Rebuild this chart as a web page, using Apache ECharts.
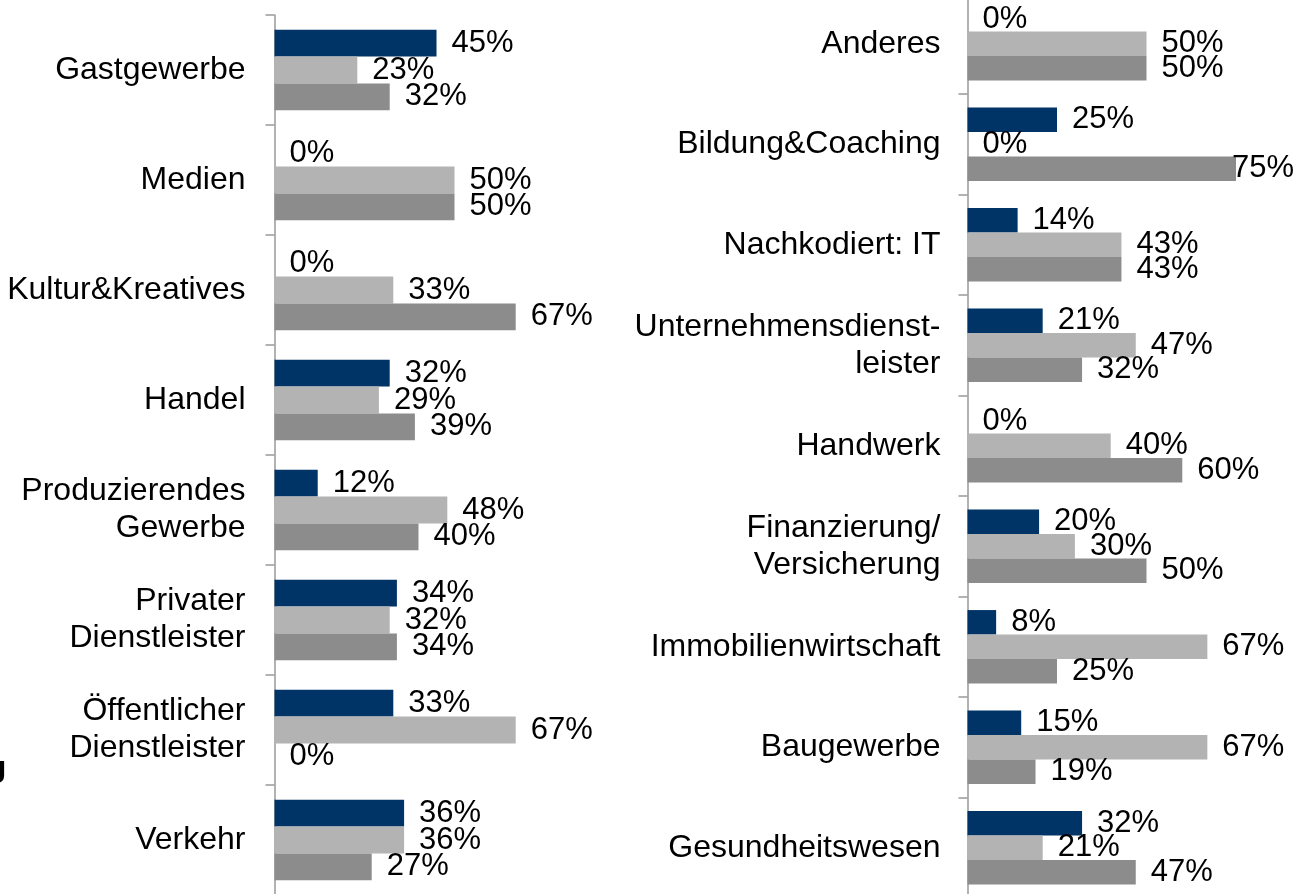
<!DOCTYPE html>
<html>
<head>
<meta charset="utf-8">
<script src="https://cdn.jsdelivr.net/npm/echarts@6/dist/echarts.min.js"></script>
<style>
html,body{margin:0;padding:0;background:#fff;overflow:hidden;width:1301px;height:894px;position:relative;}
#chart{position:absolute;left:0;top:-7px;width:1360px;height:910px;}
</style>
</head>
<body>
<div id="chart"></div>
<script>
// Left panel
const leftCategories = ['Gastgewerbe', 'Medien', 'Kultur&Kreatives', 'Handel', 'Produzierendes\nGewerbe', 'Privater\nDienstleister', 'Öffentlicher\nDienstleister', 'Verkehr'];
const leftDark  = [45, 0, 0, 32, 12, 34, 33, 36];
const leftLight = [23, 50, 33, 29, 48, 32, 67, 36];
const leftGray  = [32, 50, 67, 39, 40, 34, 0, 27];

// Right panel
const rightCategories = ['Anderes', 'Bildung&Coaching', 'Nachkodiert: IT', 'Unternehmensdienst-\nleister', 'Handwerk', 'Finanzierung/\nVersicherung', 'Immobilienwirtschaft', 'Baugewerbe', 'Gesundheitswesen'];
const rightDark  = [0, 25, 14, 21, 0, 20, 8, 15, 32];
const rightLight = [50, 0, 43, 47, 40, 30, 67, 67, 21];
const rightGray  = [50, 75, 43, 32, 60, 50, 25, 19, 47];

const FONT = "'Liberation Sans', Arial, sans-serif";
const COLORS = ['#003366', '#b3b3b3', '#8c8c8c'];

const chart = echarts.init(document.getElementById('chart'));

function yAxisCfg(cats, idx, margin) {
  return {
    type: 'category', gridIndex: idx, data: cats, inverse: true,
    axisLine: { show: true, lineStyle: { color: '#999', width: 1.5 } },
    axisTick: { show: true, length: 9, lineStyle: { color: '#999', width: 1.5 } },
    axisLabel: { color: '#000', fontSize: 32, fontFamily: FONT, lineHeight: 37, margin: margin, align: 'right', padding: [5, 0, 0, 0] }
  };
}
// labels of bars that would run past the right edge are pulled back onto the bar end
function barData(values, pullBackFrom) {
  return values.map(v => (pullBackFrom != null && v >= pullBackFrom) ? { value: v, label: { distance: -4 } } : v);
}
function barSeries(data, idx, color, pullBackFrom) {
  return {
    type: 'bar', xAxisIndex: idx, yAxisIndex: idx, data: barData(data, pullBackFrom),
    barGap: '0%', barCategoryGap: '27%',
    itemStyle: { color: color },
    label: { show: true, position: 'right', distance: 15, formatter: '{c}%', color: '#000', fontSize: 31, fontFamily: FONT },
    silent: true, animation: false
  };
}

chart.setOption({
  animation: false,
  grid: [
    { left: 274.5, top: 22, width: 360, height: 880 },
    { left: 967.5, top: 0.5, width: 358, height: 904.5 }
  ],
  xAxis: [
    { type: 'value', gridIndex: 0, min: 0, max: 100, show: false },
    { type: 'value', gridIndex: 1, min: 0, max: 100, show: false }
  ],
  yAxis: [yAxisCfg(leftCategories, 0, 29), yAxisCfg(rightCategories, 1, 27)],
  series: [
    barSeries(leftDark, 0, COLORS[0]),
    barSeries(leftLight, 0, COLORS[1]),
    barSeries(leftGray, 0, COLORS[2]),
    barSeries(rightDark, 1, COLORS[0], 70),
    barSeries(rightLight, 1, COLORS[1], 70),
    barSeries(rightGray, 1, COLORS[2], 70)
  ],
  graphic: [
    { type: 'text', left: -11, top: 766, style: { text: 'J', font: "bold 31px 'Liberation Sans', Arial, sans-serif", fill: '#000' } }
  ]
});
</script>
</body>
</html>
